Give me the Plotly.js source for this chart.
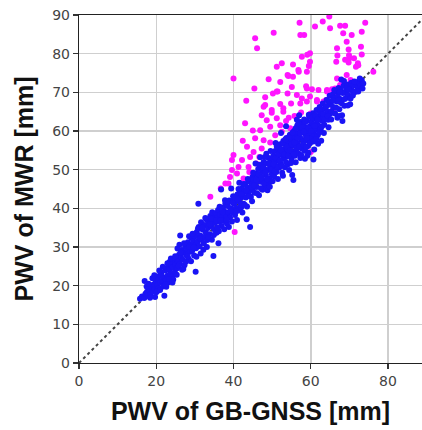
<!DOCTYPE html>
<html>
<head>
<meta charset="utf-8">
<script src="https://cdn.plot.ly/plotly-3.0.1.min.js"></script>
<style>html,body{margin:0;padding:0;background:#fff;}#chart{width:422px;height:430px;}</style>
</head>
<body>
<div id="chart"></div>
<script>
// GB-GNSS PWV (x) and MWR PWV (y), in mm — main (blue) points
const blueGnss = [
15.8,16.3,16.9,17.2,17.0,17.6,17.9,18.2,18.5,18.8,19.1,19.3,19.6,19.9,19.7,18.4,20.0,
20.2,20.4,20.6,20.9,21.1,21.3,21.5,21.8,22.0,22.1,22.3,22.5,22.8,23.0,23.2,23.4,23.7,23.9,24.1,24.3,24.6,24.8,25.0,21.7,22.6,24.4,20.8,23.5,
25.2,25.4,25.7,25.9,26.1,26.2,26.4,26.6,26.9,27.1,27.3,27.5,27.8,28.0,28.2,28.4,28.7,28.9,29.1,29.3,29.6,29.8,30.0,30.2,26.0,27.0,28.5,29.0,25.5,
30.1,30.3,30.5,30.7,30.9,31.0,31.2,31.4,31.6,31.8,32.0,32.2,32.4,32.6,32.8,33.0,33.2,33.4,33.6,33.8,34.0,34.2,34.4,34.6,34.8,35.0,35.0,31.5,33.1,34.5,
35.2,35.4,35.6,35.8,36.0,36.1,36.3,36.5,36.8,36.9,37.1,37.3,37.5,37.7,37.9,38.1,38.3,38.5,38.7,38.9,39.1,39.3,39.5,39.7,39.9,40.0,36.2,37.6,38.8,39.4,
40.2,40.4,40.6,40.8,41.0,41.2,41.4,41.6,41.8,42.0,42.2,42.4,42.6,42.8,43.0,43.2,43.4,43.6,43.8,44.0,44.2,44.3,44.5,44.7,44.9,45.0,40.9,42.3,43.5,41.5,
45.2,45.4,45.6,45.8,46.0,46.2,46.4,46.6,46.8,47.0,47.2,47.4,47.6,47.8,48.0,48.2,48.4,48.6,48.8,48.9,49.1,49.3,49.5,49.7,49.9,50.0,45.7,46.9,47.5,49.0,48.5,
50.2,50.3,50.5,50.6,50.8,51.0,51.1,51.3,51.4,51.6,51.8,51.9,52.1,52.2,52.4,52.6,52.7,52.9,53.0,53.2,53.3,53.5,53.7,53.8,54.0,54.1,54.3,54.5,54.6,54.8,55.0,55.0,50.1,51.5,52.8,53.6,54.4,55.2,55.5,50.9,52.3,
55.3,55.4,55.6,55.7,55.9,56.0,56.2,56.3,56.5,56.6,56.8,56.9,57.1,57.2,57.4,57.5,57.7,57.8,58.0,58.1,58.3,58.4,58.6,58.7,58.9,59.0,59.2,59.3,59.5,59.6,59.8,59.9,60.0,56.1,57.3,58.5,59.4,60.7,57.0,56.4,
60.2,60.3,60.5,60.6,60.8,61.0,61.1,61.3,61.5,61.6,61.8,62.0,62.1,62.3,62.5,62.6,62.8,63.0,63.1,63.3,63.5,63.7,63.9,64.1,64.3,64.5,64.7,64.9,65.0,61.9,63.4,64.6,
65.2,65.4,65.6,65.8,66.0,66.3,66.5,66.7,67.0,67.2,67.4,67.6,67.8,68.0,68.3,68.5,68.7,69.0,69.2,69.4,69.7,70.0,70.3,70.5,70.8,71.1,71.5,71.8,72.1,72.5,72.9,73.2,73.6,66.9,68.1,69.6,67.9,
17.5,18.0,19.0,19.5,20.3,21.0,21.4,22.4,22.9,23.3,23.8,24.2,24.9,25.3,25.8,26.3,26.7,27.2,27.7,28.1,28.6,29.4,29.7,30.4,30.8,31.3,31.9,32.3,32.7,33.5,33.9,34.3,34.9,35.5,35.9,36.4,36.7,37.2,37.8,38.2,38.6,39.2,39.6,39.8,
40.3,40.7,41.1,41.3,41.9,42.1,42.5,42.9,43.3,43.7,44.1,44.6,44.8,45.1,45.3,45.9,46.1,46.5,46.7,47.1,47.3,47.7,47.9,48.1,48.3,48.7,49.2,49.4,49.6,49.8,
50.4,50.7,50.9,51.2,51.5,51.7,52.0,52.3,52.5,52.8,53.1,53.4,53.6,53.9,54.2,54.4,54.7,54.9,55.1,55.3,55.6,55.8,56.1,56.3,56.6,56.8,57.0,57.3,57.5,57.8,58.0,58.2,58.5,58.8,59.0,59.3,59.5,59.8,60.1,60.4,60.7,61.0,61.2,61.4,61.7,62.2,62.4,62.9,63.2,63.6,64.0,64.4,64.8,62.7,60.9,59.1,
65.3,65.7,66.1,66.6,67.1,67.5,68.2,68.8,69.3,69.8,70.2,70.9,71.3,72.3,72.7,73.4,68.6,67.3
];
const blueMwr = [
16.6,17.2,16.8,17.9,21.2,18.4,17.3,18.9,17.8,19.6,18.5,20.3,19.1,21.0,17.1,16.9,18.3,
20.0,21.8,19.4,22.6,20.8,23.4,21.2,19.8,22.1,17.4,23.9,21.5,24.6,22.7,20.9,24.1,23.0,25.2,22.4,24.8,26.1,23.6,25.4,24.9,19.7,21.6,23.9,26.2,
27.0,24.5,26.3,28.0,25.6,33.0,27.4,29.2,26.7,28.6,25.3,30.1,27.9,29.4,31.2,26.9,28.8,30.6,32.3,29.0,31.5,27.8,30.4,23.6,30.6,24.3,32.8,26.3,29.6,
32.8,29.7,33.9,31.4,41.2,35.2,30.2,33.0,36.4,31.9,34.5,29.3,32.6,35.7,33.8,37.1,31.8,34.9,36.6,33.3,38.0,35.4,31.9,36.8,27.7,34.6,37.9,28.3,30.0,39.0,
36.2,38.7,33.7,37.5,39.6,31.0,36.5,38.4,44.9,35.4,37.8,40.2,36.7,39.1,41.3,38.3,36.0,40.6,39.0,42.0,37.6,40.0,41.8,38.9,43.1,39.7,34.1,34.6,35.2,45.1,
41.2,38.3,42.4,40.1,43.6,39.5,41.8,44.5,42.7,40.3,45.1,43.0,41.2,44.2,46.3,42.8,37.2,45.4,43.9,47.0,44.6,35.2,42.9,46.2,48.1,45.0,37.0,38.9,40.5,46.6,
47.4,44.0,46.5,49.0,45.5,47.8,50.2,43.4,48.6,46.9,51.0,49.4,47.2,52.0,50.1,45.8,48.6,51.6,44.7,49.9,53.0,47.7,50.8,52.4,48.9,51.7,51.6,53.2,44.8,46.4,54.1,
50.2,53.6,48.3,52.1,54.8,51.0,49.4,53.2,55.7,52.4,50.5,54.3,56.6,51.6,53.8,49.2,55.3,57.4,52.9,54.6,50.6,56.4,58.2,53.5,55.2,51.4,57.1,54.0,59.0,56.2,52.8,57.8,47.0,47.6,48.4,61.2,49.9,48.6,47.3,56.9,59.5,
54.7,58.6,56.3,60.0,53.6,57.5,55.1,59.3,61.4,56.8,54.2,58.4,60.6,56.0,62.3,58.0,55.4,59.8,61.6,57.2,63.0,54.9,59.1,61.0,57.6,62.6,60.2,56.1,58.7,63.7,61.2,57.5,59.6,51.9,53.0,52.8,54.4,52.6,64.1,62.9,
62.4,58.2,60.8,64.6,61.7,59.0,63.2,60.4,65.4,62.0,58.9,63.8,61.3,66.2,64.3,60.5,62.8,65.5,67.1,63.5,61.6,66.0,64.2,68.0,65.1,62.9,66.8,69.1,64.4,56.7,59.5,61.0,
67.3,65.1,69.4,66.2,68.4,64.5,70.2,67.6,69.0,71.1,65.6,68.3,70.6,67.2,69.8,71.7,66.5,70.0,68.6,72.0,69.3,71.2,68.4,72.5,70.4,71.8,70.1,72.6,71.3,72.4,71.7,73.1,72.3,63.4,64.1,66.6,73.3,
19.8,20.5,21.9,22.7,18.6,18.9,22.5,20.3,25.8,21.7,27.0,20.8,27.6,22.8,25.0,28.6,24.1,31.0,26.2,27.6,30.0,33.4,29.9,27.5,34.8,32.2,35.0,31.0,37.5,32.6,35.9,37.3,33.1,36.9,35.0,40.4,37.0,39.0,42.1,37.0,41.7,39.3,36.6,41.5,
42.8,39.2,42.2,45.0,41.0,43.7,46.3,40.9,44.7,47.6,43.2,45.6,41.8,49.2,45.9,47.4,43.9,48.8,51.3,45.2,48.0,50.6,46.4,53.3,49.3,47.5,51.5,45.6,54.8,50.0,
51.4,49.6,53.0,56.0,50.7,54.1,52.4,55.0,51.0,56.9,53.9,57.8,52.0,55.9,53.6,58.5,55.0,51.7,56.6,59.6,54.0,57.0,60.7,55.6,58.2,61.9,55.9,59.4,53.8,61.0,56.5,59.9,62.3,55.8,58.1,60.9,64.2,56.8,60.0,63.5,57.3,61.3,64.0,57.9,63.0,59.6,65.0,61.2,64.3,63.0,66.4,63.9,67.7,57.5,55.2,53.6,
63.0,67.8,70.6,66.0,67.9,70.1,62.6,68.3,71.0,70.7,66.9,69.2,72.8,70.2,73.6,71.0,72.9,63.9
];
// Outlier (magenta) points
const pinkGnss = [
57.1,45.6,46.1,50.4,57.3,58.3,61.1,63.1,64.8,65.0,67.6,68.9,74.1,73.2,70.6,69.3,66.8,69.8,73.0,59.8,59.1,57.7,59.8,52.5,51.2,55.4,56.9,59.5,54.2,55.4,40.0,45.4,49.1,52.1,55.1,58.8,60.3,62.0,64.2,66.8,69.3,71.7,72.2,68.9,70.0,71.2,76.2,73.2,69.9,66.9,70.3,66.3,66.0,68.4,72.3,69.8,66.6,
43.3,48.2,52.1,54.9,57.3,61.6,64.0,66.8,49.9,52.9,47.3,48.6,51.2,53.6,43.0,45.0,46.9,49.5,52.1,42.4,45.6,47.8,50.8,52.5,54.7,40.0,43.5,45.2,47.3,49.5,39.6,42.2,44.3,46.7,41.3,43.9,45.9,39.1,40.9,42.6,36.7,37.9,34.0,39.6,
50.2,51.4,54.0,56.4,59.0,59.8,64.2,65.5,67.6,48.2,51.2,57.7,59.0,61.6,47.8,49.9,52.9,54.0,59.0,56.8,
60.0,40.3,44.1,38.7,56.8,58.5,62.4,65.9,60.0,61.9,63.3,55.8,57.5,54.3
];
const pinkMwr = [
88.0,84.0,81.4,85.4,84.8,84.8,87.0,88.3,89.6,86.6,87.2,87.2,88.0,85.7,84.8,83.1,81.4,81.1,81.8,80.1,79.7,79.2,77.9,77.5,76.6,77.2,75.3,76.8,74.2,74.0,73.6,71.0,73.4,72.7,71.4,71.6,70.8,70.6,70.6,73.6,74.5,76.6,77.5,78.4,78.8,78.8,75.3,79.8,79.6,79.5,73.2,71.0,68.0,85.3,77.0,77.7,77.9,
67.8,66.7,67.0,67.1,67.1,67.6,68.0,69.7,64.7,65.0,64.1,62.8,63.3,62.6,62.0,60.1,60.2,61.1,61.5,57.5,58.1,57.6,58.9,59.8,60.7,53.8,55.9,54.6,55.5,57.0,52.5,52.5,53.3,53.3,50.7,50.7,51.6,48.1,49.0,47.7,45.1,46.4,43.0,49.9,
69.7,70.2,69.7,69.3,71.0,68.9,70.2,70.8,71.9,68.7,70.2,68.4,67.6,68.0,66.3,65.4,65.9,74.5,75.3,75.8,
54.6,33.9,49.4,46.4,61.1,62.8,63.2,65.8,64.5,65.4,67.6,63.9,64.8,63.4
];
const oneToOne = [0, 90];
const yTicks = [0, 10, 20, 30, 40, 50, 60, 70, 80, 90];
const xTicks = [0, 20, 40, 60, 80];

const traces = [
  {x: oneToOne, y: oneToOne, mode: 'lines', line: {color: '#444', width: 2, dash: 'dot'}, hoverinfo: 'skip', showlegend: false},
  {x: pinkGnss, y: pinkMwr, mode: 'markers', marker: {color: '#ff14ff', size: 6}, showlegend: false},
  {x: blueGnss, y: blueMwr, mode: 'markers', marker: {color: '#1a14f5', size: 6}, showlegend: false}
];
const axisCommon = {
  showgrid: true, gridcolor: '#cfcfcf', gridwidth: 1.5,
  showline: true, linecolor: '#222', linewidth: 1.2,
  ticks: 'outside', ticklen: 5, tickwidth: 1.2, tickcolor: '#333',
  tickfont: {family: 'DejaVu Sans', size: 14, color: '#444'},
  zeroline: false
};
const titleFont = {family: 'Liberation Sans', size: 25, color: '#111', weight: 'bold'};
const layout = {
  width: 422, height: 430,
  margin: {l: 79, r: 0, t: 15, b: 67},
  paper_bgcolor: '#fff', plot_bgcolor: '#fff',
  showlegend: false,
  xaxis: Object.assign({}, axisCommon, {
    range: [0, 88.8], tickvals: xTicks, mirror: true,
    title: {text: 'PWV of GB-GNSS [mm]', font: titleFont, standoff: 14}
  }),
  yaxis: Object.assign({}, axisCommon, {
    range: [0, 90], tickvals: yTicks,
    title: {text: 'PWV of MWR [mm]', font: titleFont, standoff: 11}
  })
};
Plotly.newPlot('chart', traces, layout, {displayModeBar: false, staticPlot: true});
</script>
</body>
</html>
